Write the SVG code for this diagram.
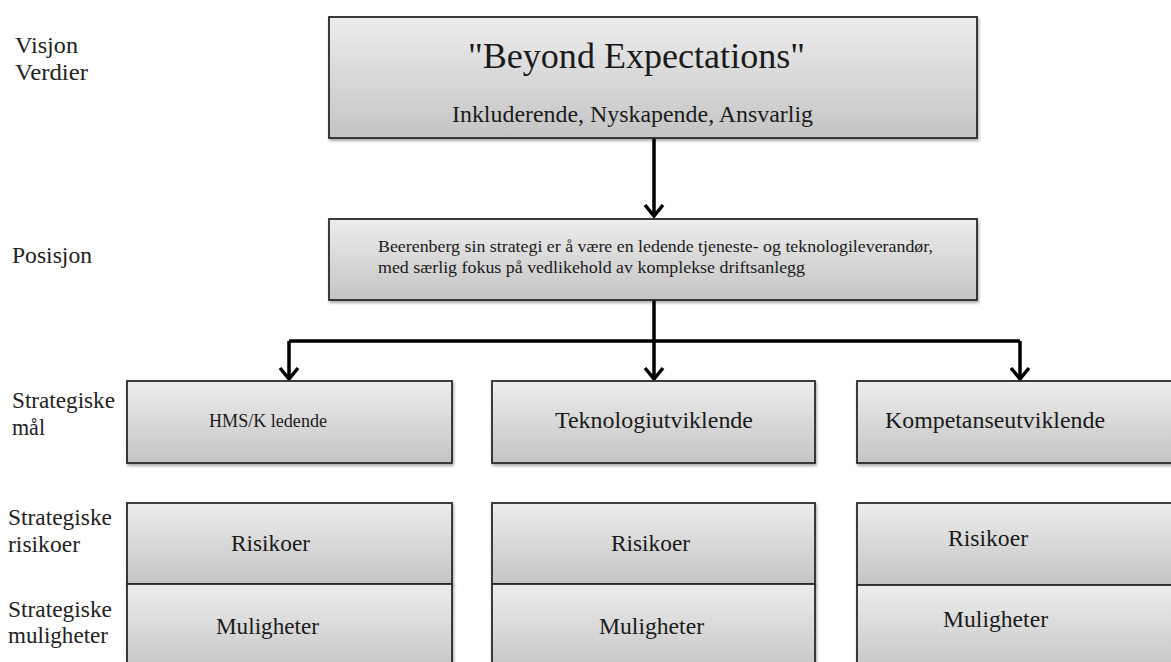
<svg xmlns="http://www.w3.org/2000/svg" width="1171" height="662" viewBox="0 0 1171 662">
<style>
.box{fill:url(#g);stroke:#2a2a2a;stroke-width:1.8;filter:url(#sh)}
.t{font-family:"Liberation Serif","DejaVu Serif",serif;fill:#1a1a1a}
.lbl{font-family:"Liberation Serif","DejaVu Serif",serif;fill:#222;font-size:23.5px}
.c{fill:none;stroke:#000;stroke-width:3.5}
</style>
<defs>
<linearGradient id="g" x1="0" y1="0" x2="0" y2="1">
<stop offset="0" stop-color="#ededed"/>
<stop offset="1" stop-color="#c4c4c4"/>
</linearGradient>
<filter id="sh" x="-5%" y="-10%" width="110%" height="130%">
<feDropShadow dx="1" dy="2" stdDeviation="1.5" flood-color="#000" flood-opacity="0.35"/>
</filter>
<marker id="ah" markerUnits="userSpaceOnUse" viewBox="-14 -12 16 24" markerWidth="16" markerHeight="24" refX="0" refY="0" orient="auto" overflow="visible">
<path d="M-11,-9 L0,0 L-11,9" fill="none" stroke="#000" stroke-width="3.5" stroke-linejoin="miter"/>
</marker>
</defs>
<rect width="1171" height="662" fill="#fff"/>

<g id="labels">
<text class="lbl" x="15" y="53" textLength="63" lengthAdjust="spacingAndGlyphs">Visjon</text>
<text class="lbl" x="15" y="80" textLength="73" lengthAdjust="spacingAndGlyphs">Verdier</text>
<text class="lbl" x="12" y="263" textLength="80" lengthAdjust="spacingAndGlyphs">Posisjon</text>
<text class="lbl" x="12" y="408" textLength="103" lengthAdjust="spacingAndGlyphs">Strategiske</text>
<text class="lbl" x="12" y="435" textLength="33" lengthAdjust="spacingAndGlyphs">mål</text>
<text class="lbl" x="8" y="525" textLength="104" lengthAdjust="spacingAndGlyphs">Strategiske</text>
<text class="lbl" x="8" y="552" textLength="72" lengthAdjust="spacingAndGlyphs">risikoer</text>
<text class="lbl" x="8" y="617" textLength="104" lengthAdjust="spacingAndGlyphs">Strategiske</text>
<text class="lbl" x="8" y="643" textLength="100" lengthAdjust="spacingAndGlyphs">muligheter</text>
</g>

<g id="connectors">
<path class="c" d="M654,138 V216" marker-end="url(#ah)"/>
<path class="c" d="M654,300 V341"/>
<path class="c" d="M289,341 H1020"/>
<path class="c" d="M289,341 V379" marker-end="url(#ah)"/>
<path class="c" d="M654,341 V379" marker-end="url(#ah)"/>
<path class="c" d="M1020,341 V379" marker-end="url(#ah)"/>
</g>

<g id="vision">
<rect class="box" x="329" y="17" width="648" height="121"/>
<text class="t" x="468" y="68" font-size="36" textLength="337" lengthAdjust="spacingAndGlyphs">"Beyond Expectations"</text>
<text class="t" x="452" y="122" font-size="23.5" textLength="361" lengthAdjust="spacingAndGlyphs">Inkluderende, Nyskapende, Ansvarlig</text>
</g>

<g id="position">
<rect class="box" x="329" y="219" width="648" height="81"/>
<text class="t" x="378" y="252" font-size="17" textLength="555" lengthAdjust="spacingAndGlyphs">Beerenberg sin strategi er å være en ledende tjeneste- og teknologileverandør,</text>
<text class="t" x="378" y="273" font-size="17" textLength="427" lengthAdjust="spacingAndGlyphs">med særlig fokus på vedlikehold av komplekse driftsanlegg</text>
</g>

<g id="goal1">
<rect class="box" x="127" y="381" width="325" height="82"/>
<text class="t" x="209" y="427" font-size="18" textLength="118" lengthAdjust="spacingAndGlyphs">HMS/K ledende</text>
</g>
<g id="goal2">
<rect class="box" x="492" y="381" width="323" height="82"/>
<text class="t" x="555" y="428" font-size="23.5" textLength="198" lengthAdjust="spacingAndGlyphs">Teknologiutviklende</text>
</g>
<g id="goal3">
<rect class="box" x="857" y="381" width="320" height="82"/>
<text class="t" x="885" y="428" font-size="23.5" textLength="220" lengthAdjust="spacingAndGlyphs">Kompetanseutviklende</text>
</g>

<g id="risk1">
<rect class="box" x="127" y="503" width="325" height="81"/>
<text class="t" x="231" y="551" font-size="23.5" textLength="79" lengthAdjust="spacingAndGlyphs">Risikoer</text>
</g>
<g id="opp1">
<rect class="box" x="127" y="584" width="325" height="90"/>
<text class="t" x="216" y="634" font-size="23.5" textLength="103" lengthAdjust="spacingAndGlyphs">Muligheter</text>
</g>
<g id="risk2">
<rect class="box" x="492" y="503" width="323" height="81"/>
<text class="t" x="611" y="551" font-size="23.5" textLength="79" lengthAdjust="spacingAndGlyphs">Risikoer</text>
</g>
<g id="opp2">
<rect class="box" x="492" y="584" width="323" height="90"/>
<text class="t" x="599" y="634" font-size="23.5" textLength="105" lengthAdjust="spacingAndGlyphs">Muligheter</text>
</g>
<g id="risk3">
<rect class="box" x="857" y="503" width="320" height="82"/>
<text class="t" x="948" y="546" font-size="23.5" textLength="80" lengthAdjust="spacingAndGlyphs">Risikoer</text>
</g>
<g id="opp3">
<rect class="box" x="857" y="585" width="320" height="90"/>
<text class="t" x="943" y="627" font-size="23.5" textLength="105" lengthAdjust="spacingAndGlyphs">Muligheter</text>
</g>
</svg>
